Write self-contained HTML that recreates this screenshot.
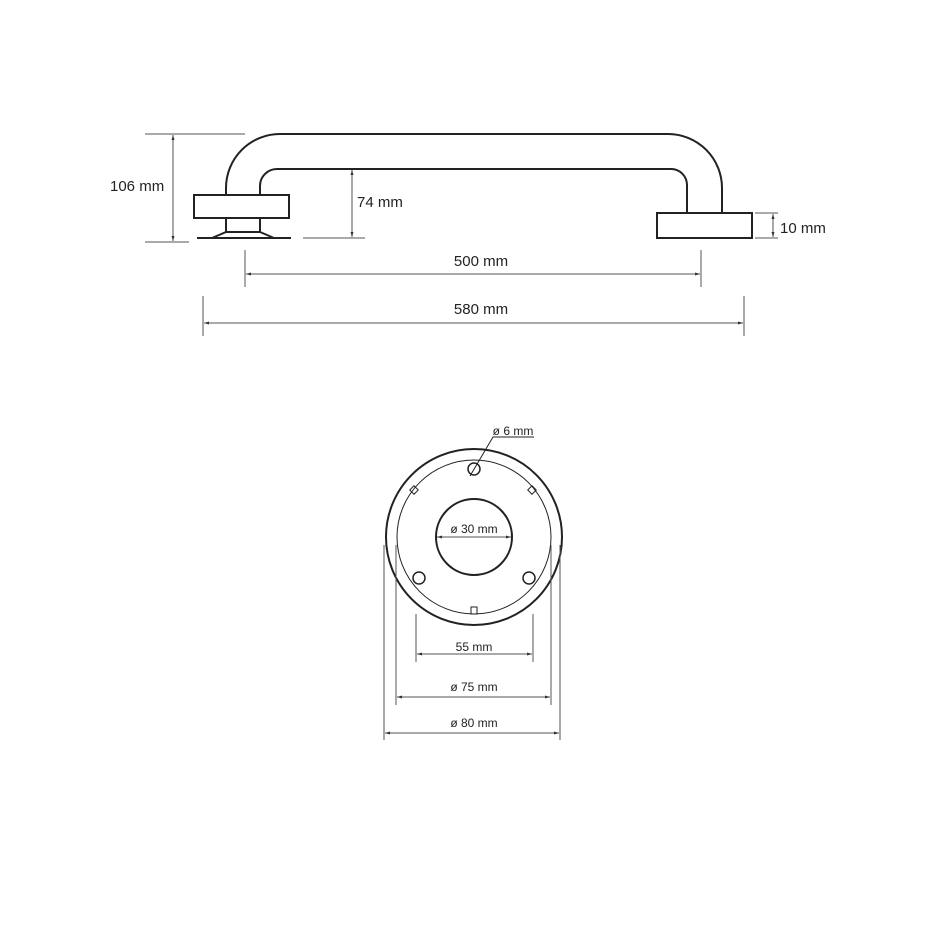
<!DOCTYPE html>
<html><head><meta charset="utf-8"><style>
html,body{margin:0;padding:0;background:#fff;}
svg{display:block;font-family:"Liberation Sans",sans-serif;}
</style></head><body>
<svg width="935" height="935" viewBox="0 0 935 935" xmlns="http://www.w3.org/2000/svg">
<defs>
<marker id="a" viewBox="0 0 10 10" refX="10" refY="5" markerWidth="5" markerHeight="5" orient="auto-start-reverse"><path d="M0,2 L10,5 L0,8 z" fill="#333"/></marker>
</defs>
<g fill="none" stroke="#222" stroke-width="2">
<path d="M226,195 V188 A54,54 0 0 1 280,134 H668 A54,54 0 0 1 722,188 V213"/>
<path d="M260,195 V186 A17,17 0 0 1 277,169 H671 A16,16 0 0 1 687,185 V213"/>
<rect x="194" y="195" width="95" height="23"/>
<rect x="657" y="213" width="95" height="25"/>
<path d="M226,218 V232 M260,218 V232 M226,232 H260 M226,232 L212,238 M260,232 L274,238 M197,238 H291"/>
</g>
<g stroke="#555" stroke-width="1" fill="none">
<path d="M145,134 H245 M145,242 H189"/>
<line x1="173" y1="135" x2="173" y2="241" marker-start="url(#a)" marker-end="url(#a)"/>
<path d="M303,238 H365"/>
<line x1="352" y1="170" x2="352" y2="237" marker-start="url(#a)" marker-end="url(#a)"/>
<path d="M755,213 H778 M755,238 H778"/>
<line x1="773" y1="214" x2="773" y2="237" marker-start="url(#a)" marker-end="url(#a)"/>
<path d="M245,250 V287 M701,250 V287"/>
<line x1="246" y1="274" x2="700" y2="274" marker-start="url(#a)" marker-end="url(#a)"/>
<path d="M203,296 V336 M744,296 V336"/>
<line x1="204" y1="323" x2="743" y2="323" marker-start="url(#a)" marker-end="url(#a)"/>
</g>
<g font-size="15" fill="#222">
<text x="110" y="191">106 mm</text>
<text x="357" y="207">74 mm</text>
<text x="780" y="233">10 mm</text>
<text x="481" y="266" text-anchor="middle">500 mm</text>
<text x="481" y="314" text-anchor="middle">580 mm</text>
</g>
<g fill="none" stroke="#222">
<circle cx="474" cy="537" r="88" stroke-width="2"/>
<circle cx="474" cy="537" r="77" stroke-width="1"/>
<circle cx="474" cy="537" r="38" stroke-width="2"/>
<circle cx="474" cy="469" r="6" stroke-width="1.5"/>
<circle cx="419" cy="578" r="6" stroke-width="1.5"/>
<circle cx="529" cy="578" r="6" stroke-width="1.5"/>
<path d="M470,476 L493,437 H534" stroke-width="1"/>
<rect x="411" y="487" width="6" height="6" transform="rotate(45 414 490)" stroke-width="1"/>
<rect x="529" y="487" width="6" height="6" transform="rotate(-45 532 490)" stroke-width="1"/>
<rect x="471" y="607" width="6" height="7" stroke-width="1"/>
</g>
<g stroke="#555" stroke-width="1" fill="none">
<line x1="437" y1="537" x2="511" y2="537" marker-start="url(#a)" marker-end="url(#a)"/>
<path d="M416,614 V662 M533,614 V662"/>
<line x1="417" y1="654" x2="532" y2="654" marker-start="url(#a)" marker-end="url(#a)"/>
<path d="M396,545 V705 M551,545 V705"/>
<line x1="397" y1="697" x2="550" y2="697" marker-start="url(#a)" marker-end="url(#a)"/>
<path d="M384,545 V740 M560,545 V740"/>
<line x1="385" y1="733" x2="559" y2="733" marker-start="url(#a)" marker-end="url(#a)"/>
</g>
<g font-size="12" fill="#222" text-anchor="middle">
<text x="513" y="435">ø 6 mm</text>
<text x="474" y="533">ø 30 mm</text>
<text x="474" y="651">55 mm</text>
<text x="474" y="691">ø 75 mm</text>
<text x="474" y="727">ø 80 mm</text>
</g>
</svg>
</body></html>
